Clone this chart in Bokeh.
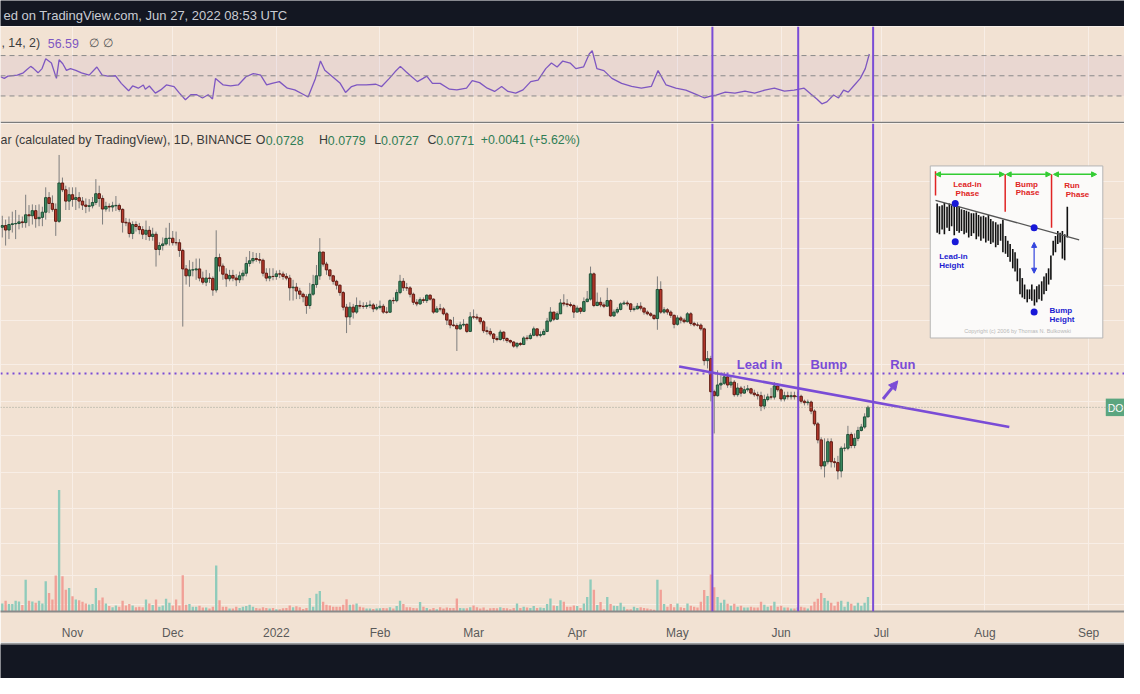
import pandas as pd
from bokeh.plotting import figure
from bokeh.layouts import column
from bokeh.models import (Range1d, LinearScale, FixedTicker, Grid, Span, BoxAnnotation, Label,
                          ColumnDataSource, Arrow, NormalHead, CustomJSTickFormatter)
from bokeh.core.properties import value
from bokeh.embed import file_html
from bokeh.resources import INLINE

# ---------------- data (daily candles from 2021-10-11) ----------------
first_date = "2021-10-11"
first_open = 0.2277
closes = [
    0.2300, 0.2239, 0.2314, 0.2324, 0.2328, 0.2351, 0.2341, 0.2453, 0.2439, 0.2515,
    0.2397, 0.2416, 0.2492, 0.2720, 0.2627, 0.2535, 0.2359, 0.2970, 0.2852, 0.2664,
    0.2768, 0.2691, 0.2720, 0.2664, 0.2601, 0.2581, 0.2590, 0.2642, 0.2785, 0.2707,
    0.2540, 0.2581, 0.2571, 0.2590, 0.2596, 0.2535, 0.2345, 0.2337, 0.2192, 0.2314,
    0.2287, 0.2244, 0.2183, 0.2235, 0.2154, 0.2183, 0.1992, 0.2039, 0.2059, 0.2129,
    0.2131, 0.2075, 0.2074, 0.1980, 0.1772, 0.1700, 0.1761, 0.1762, 0.1772, 0.1677,
    0.1636, 0.1677, 0.1674, 0.1561, 0.1897, 0.1803, 0.1717, 0.1670, 0.1704, 0.1677,
    0.1660, 0.1700, 0.1727, 0.1831, 0.1861, 0.1886, 0.1875, 0.1867, 0.1727, 0.1677,
    0.1694, 0.1693, 0.1720, 0.1718, 0.1694, 0.1677, 0.1582, 0.1588, 0.1552, 0.1522,
    0.1499, 0.1422, 0.1522, 0.1613, 0.1700, 0.1961, 0.1824, 0.1762, 0.1700, 0.1645,
    0.1607, 0.1537, 0.1408, 0.1328, 0.1408, 0.1367, 0.1422, 0.1416, 0.1414, 0.1422,
    0.1427, 0.1394, 0.1406, 0.1416, 0.1367, 0.1366, 0.1465, 0.1464, 0.1537, 0.1645,
    0.1582, 0.1581, 0.1522, 0.1450, 0.1436, 0.1473, 0.1465, 0.1513, 0.1478, 0.1367,
    0.1394, 0.1393, 0.1353, 0.1303, 0.1265, 0.1260, 0.1236, 0.1265, 0.1270, 0.1217,
    0.1328, 0.1327, 0.1320, 0.1290, 0.1222, 0.1217, 0.1198, 0.1166, 0.1159, 0.1212,
    0.1166, 0.1152, 0.1142, 0.1114, 0.1132, 0.1125, 0.1170, 0.1166, 0.1189, 0.1236,
    0.1189, 0.1194, 0.1217, 0.1295, 0.1367, 0.1310, 0.1353, 0.1444, 0.1436, 0.1430,
    0.1422, 0.1367, 0.1400, 0.1373, 0.1456, 0.1478, 0.1720, 0.1422, 0.1450, 0.1427,
    0.1416, 0.1465, 0.1336, 0.1367, 0.1389, 0.1436, 0.1444, 0.1436, 0.1389, 0.1394,
    0.1416, 0.1400, 0.1367, 0.1353, 0.1341, 0.1315, 0.1566, 0.1367, 0.1386, 0.1367,
    0.1341, 0.1270, 0.1320, 0.1303, 0.1290, 0.1353, 0.1277, 0.1265, 0.1264, 0.1236,
    0.1021, 0.1033, 0.0847, 0.0827, 0.0882, 0.0891, 0.0926, 0.0882, 0.0897, 0.0832,
    0.0866, 0.0840, 0.0857, 0.0862, 0.0840, 0.0832, 0.0827, 0.0777, 0.0808, 0.0821,
    0.0820, 0.0877, 0.0857, 0.0811, 0.0827, 0.0822, 0.0827, 0.0822, 0.0824, 0.0800,
    0.0793, 0.0796, 0.0754, 0.0698, 0.0634, 0.0542, 0.0556, 0.0627, 0.0556, 0.0553,
    0.0526, 0.0603, 0.0603, 0.0655, 0.0613, 0.0640, 0.0671, 0.0685, 0.0728, 0.0771,
]
highs = [
    0.2439, 0.2383, 0.2429, 0.2500, 0.2525, 0.2453, 0.2429, 0.2768, 0.2601, 0.2612,
    0.2601, 0.2612, 0.2575, 0.2894, 0.2812, 0.2757, 0.2627, 0.3515, 0.3069, 0.2923,
    0.2894, 0.2894, 0.2894, 0.2812, 0.2730, 0.2707, 0.2696, 0.2730, 0.3040, 0.2923,
    0.2757, 0.2653, 0.2627, 0.2653, 0.2746, 0.2627, 0.2550, 0.2407, 0.2397, 0.2359,
    0.2359, 0.2337, 0.2291, 0.2369, 0.2291, 0.2270, 0.2218, 0.2080, 0.2141, 0.2270,
    0.2337, 0.2226, 0.2218, 0.2120, 0.2000, 0.1814, 0.1867, 0.1849, 0.1886, 0.1886,
    0.1744, 0.1762, 0.1727, 0.1694, 0.2235, 0.1942, 0.1831, 0.1779, 0.1762, 0.1762,
    0.1717, 0.1744, 0.1762, 0.1905, 0.1973, 0.1961, 0.1950, 0.1950, 0.1886, 0.1779,
    0.1779, 0.1779, 0.1755, 0.1762, 0.1744, 0.1727, 0.1710, 0.1660, 0.1629, 0.1582,
    0.1537, 0.1522, 0.1629, 0.1710, 0.1814, 0.2132, 0.1923, 0.1849, 0.1762, 0.1710,
    0.1660, 0.1613, 0.1552, 0.1436, 0.1450, 0.1436, 0.1493, 0.1465, 0.1450, 0.1450,
    0.1465, 0.1444, 0.1436, 0.1465, 0.1436, 0.1408, 0.1478, 0.1493, 0.1566, 0.1710,
    0.1677, 0.1629, 0.1598, 0.1537, 0.1478, 0.1493, 0.1493, 0.1522, 0.1522, 0.1484,
    0.1416, 0.1436, 0.1408, 0.1367, 0.1310, 0.1328, 0.1277, 0.1290, 0.1310, 0.1277,
    0.1367, 0.1389, 0.1353, 0.1328, 0.1303, 0.1253, 0.1240, 0.1205, 0.1182, 0.1229,
    0.1217, 0.1175, 0.1159, 0.1147, 0.1142, 0.1142, 0.1182, 0.1189, 0.1205, 0.1253,
    0.1236, 0.1217, 0.1236, 0.1320, 0.1408, 0.1367, 0.1373, 0.1478, 0.1522, 0.1478,
    0.1450, 0.1436, 0.1422, 0.1408, 0.1493, 0.1552, 0.1797, 0.1734, 0.1537, 0.1493,
    0.1450, 0.1582, 0.1478, 0.1389, 0.1408, 0.1450, 0.1465, 0.1465, 0.1444, 0.1416,
    0.1444, 0.1450, 0.1408, 0.1381, 0.1367, 0.1346, 0.1694, 0.1645, 0.1408, 0.1400,
    0.1381, 0.1346, 0.1341, 0.1336, 0.1320, 0.1367, 0.1367, 0.1290, 0.1285, 0.1277,
    0.1245, 0.1082, 0.1051, 0.0857, 0.0963, 0.0935, 0.0953, 0.0946, 0.0935, 0.0908,
    0.0892, 0.0877, 0.0877, 0.0882, 0.0867, 0.0857, 0.0847, 0.0847, 0.0832, 0.0837,
    0.0867, 0.0897, 0.0892, 0.0867, 0.0847, 0.0847, 0.0847, 0.0847, 0.0847, 0.0832,
    0.0808, 0.0808, 0.0803, 0.0762, 0.0706, 0.0644, 0.0640, 0.0640, 0.0640, 0.0569,
    0.0576, 0.0610, 0.0621, 0.0690, 0.0663, 0.0659, 0.0686, 0.0698, 0.0744, 0.0779,
]
lows = [
    0.2141, 0.2039, 0.2120, 0.2205, 0.2120, 0.2248, 0.2270, 0.2270, 0.2291, 0.2314,
    0.2270, 0.2291, 0.2291, 0.2383, 0.2478, 0.2500, 0.2161, 0.2337, 0.2812, 0.2525,
    0.2525, 0.2575, 0.2525, 0.2550, 0.2525, 0.2478, 0.2500, 0.2550, 0.2601, 0.2575,
    0.2314, 0.2500, 0.2500, 0.2500, 0.2510, 0.2500, 0.2205, 0.2291, 0.2141, 0.2120,
    0.2218, 0.2183, 0.2120, 0.2108, 0.2099, 0.2099, 0.1797, 0.1923, 0.1980, 0.2039,
    0.2039, 0.2039, 0.2039, 0.1905, 0.1253, 0.1613, 0.1591, 0.1694, 0.1660, 0.1645,
    0.1613, 0.1598, 0.1629, 0.1508, 0.1537, 0.1744, 0.1660, 0.1591, 0.1645, 0.1645,
    0.1598, 0.1629, 0.1655, 0.1694, 0.1797, 0.1831, 0.1849, 0.1831, 0.1694, 0.1645,
    0.1645, 0.1655, 0.1660, 0.1677, 0.1660, 0.1655, 0.1465, 0.1465, 0.1478, 0.1478,
    0.1450, 0.1353, 0.1394, 0.1508, 0.1582, 0.1660, 0.1797, 0.1710, 0.1660, 0.1613,
    0.1566, 0.1508, 0.1381, 0.1205, 0.1265, 0.1315, 0.1353, 0.1394, 0.1394, 0.1394,
    0.1400, 0.1367, 0.1381, 0.1389, 0.1353, 0.1353, 0.1361, 0.1436, 0.1450, 0.1522,
    0.1552, 0.1552, 0.1493, 0.1427, 0.1416, 0.1427, 0.1444, 0.1444, 0.1465, 0.1353,
    0.1367, 0.1373, 0.1341, 0.1265, 0.1240, 0.1253, 0.1082, 0.1229, 0.1253, 0.1205,
    0.1212, 0.1310, 0.1303, 0.1270, 0.1205, 0.1194, 0.1182, 0.1136, 0.1147, 0.1152,
    0.1147, 0.1136, 0.1132, 0.1103, 0.1099, 0.1114, 0.1121, 0.1152, 0.1159, 0.1182,
    0.1175, 0.1175, 0.1189, 0.1212, 0.1285, 0.1295, 0.1303, 0.1353, 0.1416, 0.1408,
    0.1408, 0.1320, 0.1367, 0.1353, 0.1367, 0.1450, 0.1465, 0.1408, 0.1416, 0.1408,
    0.1400, 0.1427, 0.1328, 0.1328, 0.1353, 0.1381, 0.1427, 0.1416, 0.1367, 0.1373,
    0.1389, 0.1381, 0.1346, 0.1341, 0.1328, 0.1303, 0.1229, 0.1353, 0.1353, 0.1346,
    0.1320, 0.1240, 0.1260, 0.1277, 0.1277, 0.1285, 0.1260, 0.1253, 0.1253, 0.1222,
    0.0992, 0.0974, 0.0799, 0.0659, 0.0822, 0.0857, 0.0882, 0.0867, 0.0867, 0.0822,
    0.0822, 0.0822, 0.0837, 0.0847, 0.0832, 0.0822, 0.0808, 0.0754, 0.0762, 0.0799,
    0.0808, 0.0808, 0.0847, 0.0799, 0.0799, 0.0808, 0.0808, 0.0808, 0.0808, 0.0789,
    0.0780, 0.0780, 0.0740, 0.0690, 0.0621, 0.0531, 0.0506, 0.0547, 0.0537, 0.0537,
    0.0500, 0.0506, 0.0592, 0.0596, 0.0603, 0.0603, 0.0629, 0.0667, 0.0678, 0.0727,
]
volumes = [
    0.83, 1.10, 0.77, 0.77, 1.10, 1.03, 0.67, 3.27, 1.10, 1.03,
    0.90, 1.10, 0.83, 3.10, 1.90, 1.23, 3.70, 12.5, 3.63, 2.23,
    2.43, 1.57, 1.23, 1.17, 1.00, 0.83, 0.73, 0.77, 2.43, 1.17,
    1.43, 0.83, 0.57, 0.43, 0.63, 0.50, 1.10, 0.63, 0.77, 0.63,
    0.43, 0.50, 0.43, 1.23, 0.83, 0.67, 1.23, 0.50, 0.63, 1.30,
    0.90, 0.63, 1.23, 0.63, 3.73, 0.70, 0.77, 0.50, 0.50, 0.60,
    0.40, 0.40, 0.30, 0.50, 4.73, 1.17, 0.50, 0.50, 0.30, 0.30,
    0.50, 0.37, 0.50, 0.57, 0.70, 0.50, 0.37, 0.30, 0.43, 0.37,
    0.30, 0.37, 0.23, 0.23, 0.33, 0.37, 0.63, 0.43, 0.53, 0.43,
    0.27, 0.37, 1.40, 0.50, 1.83, 2.10, 1.00, 0.70, 0.63, 0.50,
    0.50, 0.50, 0.70, 1.27, 0.70, 0.73, 0.83, 0.50, 0.40, 0.30,
    0.30, 0.27, 0.30, 0.33, 0.37, 0.33, 0.43, 0.30, 0.57, 1.10,
    0.77, 0.43, 0.43, 0.37, 0.33, 0.97, 0.50, 0.37, 0.23, 0.37,
    0.23, 0.43, 0.30, 0.40, 0.37, 0.37, 1.33, 0.37, 0.33, 0.33,
    0.43, 0.63, 0.43, 0.30, 0.40, 0.17, 0.33, 0.37, 0.33, 0.43,
    0.37, 0.33, 0.23, 0.37, 0.83, 0.37, 0.50, 0.40, 0.37, 0.57,
    0.37, 0.40, 0.37, 0.77, 1.33, 0.63, 0.57, 1.17, 1.00, 0.50,
    0.50, 0.63, 0.57, 0.37, 0.83, 1.50, 3.30, 2.23, 0.67, 0.97,
    0.23, 1.50, 0.77, 0.60, 0.57, 0.90, 0.50, 0.23, 0.23, 0.50,
    0.37, 0.43, 0.37, 0.30, 0.23, 0.17, 3.27, 2.23, 0.77, 0.50,
    0.77, 0.43, 0.83, 0.43, 0.37, 0.83, 0.60, 0.50, 0.40, 1.00,
    2.20, 1.60, 3.80, 2.50, 1.50, 0.90, 1.20, 0.80, 0.60, 0.80,
    0.50, 0.60, 0.40, 0.40, 0.50, 0.40, 0.40, 1.00, 0.70, 0.50,
    0.60, 1.00, 0.50, 0.60, 0.40, 0.40, 0.30, 0.30, 0.40, 0.50,
    0.40, 0.30, 0.60, 1.00, 1.30, 1.90, 1.40, 1.10, 0.90, 0.60,
    1.00, 1.10, 0.50, 1.00, 0.80, 0.60, 0.90, 0.60, 0.90, 1.50,
]
# RSI line: day offset from first_date and value
rsi_day = [
    -0.5, 0.6, 1.7, 4.5, 6.3, 7.4, 8.5, 9.4, 10.7, 11.9,
    13.0, 14.7, 16.2, 17.0, 18.1, 19.2, 20.4, 22.0, 23.7, 26.0,
    28.3, 29.9, 31.6, 33.9, 35.6, 37.8, 39.0, 40.7, 42.2, 42.8,
    44.0, 45.8, 47.4, 49.1, 51.4, 53.0, 54.8, 56.4, 58.2, 59.9,
    61.6, 62.9, 63.8, 66.1, 68.3, 70.6, 72.9, 75.1, 77.3, 79.1,
    80.7, 82.9, 85.3, 87.5, 89.7, 91.5, 93.7, 95.2, 96.5, 98.8,
    101.1, 102.7, 104.5, 106.1, 108.9, 111.8, 113.5, 115.8, 117.5, 119.1,
    120.8, 122.5, 124.2, 125.9, 127.0, 128.7, 131.0, 133.8, 136.0, 138.9,
    140.6, 142.8, 145.1, 147.3, 149.4, 151.3, 153.6, 155.8, 158.1, 160.3,
    162.6, 164.3, 166.0, 167.7, 169.9, 171.6, 173.9, 175.6, 176.5, 177.9,
    180.0, 182.4, 185.3, 188.3, 191.2, 194.2, 196.2, 198.6, 201.5, 204.5,
    207.4, 210.1, 211.9, 213.6, 216.3, 219.2, 222.2, 225.1, 228.1, 231.0,
    234.0, 236.9, 239.9, 241.9, 243.7, 245.2, 246.7, 248.7, 250.2, 251.7,
    253.1, 254.9, 256.7, 258.2, 259.4,
]
rsi_val = [
    49.0, 47.4, 49.6, 50.6, 52.9, 56.1, 59.3, 57.1, 52.9, 57.1,
    66.8, 62.6, 47.4, 65.8, 61.9, 55.4, 57.1, 55.4, 52.9, 50.6,
    58.7, 50.6, 49.6, 50.0, 42.5, 35.1, 39.9, 37.7, 40.9, 36.7,
    39.9, 32.8, 36.0, 40.9, 39.3, 32.8, 26.3, 31.2, 31.2, 28.0,
    31.2, 27.0, 47.4, 40.9, 39.9, 40.9, 49.0, 52.2, 50.6, 40.9,
    42.5, 44.2, 37.7, 36.0, 32.2, 29.0, 47.4, 64.6, 55.4, 49.0,
    42.5, 33.5, 39.3, 40.9, 40.9, 41.6, 39.3, 47.4, 53.9, 59.3,
    53.9, 49.0, 44.2, 47.4, 49.6, 42.5, 42.5, 36.7, 36.0, 37.7,
    45.1, 43.2, 37.7, 34.5, 39.3, 34.5, 32.8, 36.0, 44.2, 45.7,
    57.1, 62.6, 58.7, 64.6, 62.6, 57.1, 58.7, 71.6, 74.8, 57.1,
    55.1, 47.4, 42.5, 39.6, 37.7, 39.6, 55.1, 40.9, 37.7, 35.7,
    31.9, 28.0, 29.9, 30.9, 33.8, 32.8, 34.8, 32.8, 35.7, 37.7,
    34.8, 35.7, 37.7, 31.9, 27.0, 22.2, 24.1, 30.9, 28.0, 35.7,
    33.8, 40.6, 47.4, 57.1, 71.6,
]
rsi_levels = [70, 50, 30]
month_ticks = ["2021-11-01", "2021-12-01", "2022-01-01", "2022-02-01", "2022-03-01", "2022-04-01",
               "2022-05-01", "2022-06-01", "2022-07-01", "2022-08-01", "2022-09-01"]
grid_prices = [0.30, 0.24, 0.20, 0.16, 0.13, 0.10, 0.08, 0.065, 0.052, 0.042, 0.034, 0.028, 0.0235]
phase_lines = ["2022-05-11 11:00", "2022-06-06 03:00", "2022-06-28 13:00"]
trend_dates = ["2022-05-01 12:00", "2022-08-08 07:00"]
trend_prices = [0.0986, 0.0685]
breakout_level = 0.0945
last_price = 0.0771
phase_names = ["Lead in", "Bump", "Run"]
phase_name_dates = ["2022-05-25 14:00", "2022-06-15 07:00", "2022-07-07 10:00"]
phase_name_price = 0.0999
run_arrow_dates = ["2022-07-01 12:00", "2022-07-05 22:00"]
run_arrow_prices = [0.0811, 0.0904]

# inset diagram (Bulkowski bump-and-run sketch), in its own units
inset_bar_u = [30, 37, 45, 52, 60, 67, 74, 82, 90, 97, 104, 112, 119, 126, 134, 141, 149, 156, 163, 171,
               178, 186, 193, 200, 208, 215, 223, 230,
               238, 245, 252, 260, 267, 274, 282, 289, 296, 304, 311, 318, 326, 333, 340, 348, 355, 362, 369, 376,
               383, 390, 397, 404, 411, 418, 426]
inset_bar_top = [130, 138, 135, 128, 140, 130, 135, 130, 140, 140, 148, 150, 152, 155, 160, 160, 158, 165, 170, 168,
                 172, 165, 178, 185, 188, 195, 192, 180,
                 230, 245, 255, 270, 280, 300, 330, 360, 380, 395, 395, 380, 395, 385, 380, 370, 355, 345, 330, 290,
                 245, 230, 215, 220, 215, 225, 140]
inset_bar_bot = [220, 225, 210, 225, 205, 215, 200, 228, 215, 220, 215, 225, 220, 235, 230, 222, 240, 232, 245, 238,
                 250, 245, 255, 250, 265, 258, 245, 280,
                 285, 295, 310, 330, 340, 370, 410, 420, 425, 435, 425, 430, 445, 435, 425, 430, 410, 400, 380, 365,
                 290, 280, 255, 250, 300, 305, 235]
inset_phase_text = ["Lead-in", "Phase", "Bump", "Phase", "Run", "Phase"]
inset_phase_u = [122, 122, 302, 305, 440, 457]
inset_phase_v = [72, 98, 70, 97, 73, 101]
inset_height_text = ["Lead-in", "Height", "Bump", "Height"]
inset_height_u = [36, 36, 372, 372]
inset_height_v = [293, 322, 460, 488]
inset_dot_u = [85, 85, 325, 325]
inset_dot_v = [130, 248, 205, 465]
inset_red_u = [25, 237, 378]
inset_red_top = [30, 40, 40]
inset_red_bot = [105, 155, 205]
inset_green_spans = [(25, 235), (240, 376), (384, 515)]

# ---------------- styling ----------------
W = 1124
BG = "#f2e2d3"
GRID = "#f8eee6"
DARK = "#131722"
PURPLE = "#7a4cd6"
UP_BODY, UP_EDGE = "#3c8b61", "#1f4f37"
DN_BODY, DN_EDGE = "#b8392c", "#5f1a12"
UP_VOL, DN_VOL = "#8fcbbb", "#f1a097"
FONT = "Liberation Sans"
HFS = "12.4px"
DAY = 86400000.0


def ms(s):
    return pd.Timestamp(s).value / 1e6


def bare(fig, bg, border):
    fig.background_fill_color = bg
    fig.border_fill_color = border
    fig.outline_line_color = None
    for g in fig.grid:
        g.visible = False


start = pd.Timestamp(first_date)
xs = [ms(start + pd.Timedelta(days=i)) for i in range(len(closes))]
opens = [first_open] + closes[:-1]
up = [c >= o for o, c in zip(opens, closes)]
src = ColumnDataSource(dict(
    x=xs, h=highs, l=lows,
    btop=[max(o, c) for o, c in zip(opens, closes)],
    bbot=[min(o, c) for o, c in zip(opens, closes)],
    body=[UP_BODY if u else DN_BODY for u in up],
    edge=[UP_EDGE if u else DN_EDGE for u in up],
    vol=volumes,
    vcol=[UP_VOL if u else DN_VOL for u in up],
))

x_range = Range1d(ms("2021-10-10 11:15"), ms("2022-09-11 18:00"))
month_ms = [ms(m) for m in month_ticks]

# ---------------- header bar ----------------
hdr = figure(width=W, height=26, x_range=Range1d(0, 1140), y_range=Range1d(27, 0),
             x_axis_location=None, y_axis_location=None, output_backend="svg",
             toolbar_location=None, min_border=0)
bare(hdr, DARK, DARK)
hdr.add_layout(Label(x=3, y=15.5, text="ed on TradingView.com, Jun 27, 2022 08:53 UTC",
                     text_font=FONT, text_font_size="13px", text_color="#c9ccd3",
                     text_baseline="middle"))

# ---------------- RSI pane ----------------
rsi = figure(width=W, height=97, x_range=x_range, y_range=Range1d(4.7, 98.8),
             x_axis_location=None, y_axis_location=None, output_backend="svg",
             toolbar_location=None, min_border=0)
rsi.min_border_bottom = 2
bare(rsi, BG, "#7c7c7c")
rsi.extra_x_ranges = {"px": Range1d(0, 1140)}
rsi.extra_y_ranges = {"py": Range1d(124, 27)}
rsi.add_layout(Grid(dimension=0, ticker=FixedTicker(ticks=month_ms), grid_line_color=GRID))
rsi.add_layout(BoxAnnotation(bottom=rsi_levels[2], top=rsi_levels[0], fill_color="#7e57c2",
                             fill_alpha=0.08, line_color=None))
for lv in rsi_levels:
    rsi.add_layout(Span(location=lv, dimension="width", line_color="#8a8a8a",
                        line_dash="5 4", line_width=1))
rsi_x = [ms(start + pd.Timedelta(days=d)) for d in rsi_day]
rsi.line(rsi_x, rsi_val, line_color="#7e57c2", line_width=1.3)
for d in phase_lines:
    rsi.add_layout(Span(location=ms(d), dimension="height", line_color=PURPLE, line_width=2))
rsi.add_layout(Label(x=1, y=44, x_range_name="px", y_range_name="py", text=", 14, 2)",
                     text_font=FONT, text_font_size=HFS, text_color="#3d3d3d", text_baseline="middle"))
rsi.add_layout(Label(x=48, y=44, x_range_name="px", y_range_name="py", text="56.59",
                     text_font=FONT, text_font_size=HFS, text_color="#7e57c2", text_baseline="middle"))
rsi.add_layout(Label(x=90, y=44, x_range_name="px", y_range_name="py", text="\u2205  \u2205",
                     text_font=FONT, text_font_size="12px", text_color="#555555", text_baseline="middle"))

# ---------------- main price pane ----------------
p = figure(width=W, height=519, x_range=x_range, y_range=Range1d(0.022599, 0.42473),
           y_axis_type="log", y_axis_location=None, output_backend="svg",
           toolbar_location=None, min_border=0)
p.min_border_bottom = 28
bare(p, BG, BG)
p.extra_x_ranges = {"px": Range1d(0, 1140), "iu": Range1d(-2820, 600)}
p.extra_y_ranges = {"vol": Range1d(0, 50.2), "py": Range1d(628, 126), "iv": Range1d(1389, -117)}
p.extra_y_scales = {"vol": LinearScale(), "py": LinearScale(), "iv": LinearScale()}

p.xaxis.ticker = FixedTicker(ticks=month_ms)
p.xaxis.formatter = CustomJSTickFormatter(code="""
const d = new Date(tick);
const m = d.getUTCMonth();
const names = ["Jan","Feb","Mar","Apr","May","Jun","Jul","Aug","Sep","Oct","Nov","Dec"];
return m == 0 ? String(d.getUTCFullYear()) : names[m];
""")
p.xaxis.axis_line_color = "#8a8a8a"
p.xaxis.axis_line_width = 2
p.xaxis.major_tick_line_color = None
p.xaxis.minor_tick_line_color = None
p.xaxis.major_label_standoff = 8
p.xaxis.major_label_text_font = FONT
p.xaxis.major_label_text_font_size = "12px"
p.xaxis.major_label_text_color = "#5a5a5a"
p.add_layout(Grid(dimension=0, ticker=FixedTicker(ticks=month_ms), grid_line_color=GRID))
p.add_layout(Grid(dimension=1, ticker=FixedTicker(ticks=grid_prices), grid_line_color=GRID))

# volume
p.vbar(x="x", top="vol", bottom=0, width=0.7 * DAY, source=src, y_range_name="vol",
       fill_color="vcol", line_color=None)
# candles
p.segment(x0="x", y0="h", x1="x", y1="l", source=src, line_color="#7d7d7d", line_width=1)
p.vbar(x="x", top="btop", bottom="bbot", width=0.72 * DAY, source=src,
       fill_color="body", line_color="edge", line_width=1)

# price lines
p.add_layout(Span(location=last_price, dimension="width", line_color="#9aa096",
                  line_dash="1 2", line_width=1))
p.add_layout(Span(location=breakout_level, dimension="width", line_color=PURPLE,
                  line_dash="2 4", line_width=2))
for d in phase_lines:
    p.add_layout(Span(location=ms(d), dimension="height", line_color=PURPLE, line_width=2))
p.line([ms(d) for d in trend_dates], trend_prices, line_color=PURPLE, line_width=2.5)
p.text(x=[ms(d) for d in phase_name_dates], y=[phase_name_price] * 3, text=phase_names,
       text_font=value(FONT), text_font_size="13px", text_font_style="bold",
       text_color=PURPLE, text_align="center", text_baseline="middle")
p.add_layout(Arrow(end=NormalHead(size=9, fill_color=PURPLE, line_color=PURPLE),
                   x_start=ms(run_arrow_dates[0]), y_start=run_arrow_prices[0],
                   x_end=ms(run_arrow_dates[1]), y_end=run_arrow_prices[1],
                   line_color=PURPLE, line_width=3))

# current price tag at right edge
p.quad(left=[1121], right=[1150], top=[409], bottom=[427], x_range_name="px", y_range_name="py",
       fill_color="#5aa57f", line_color=None)
p.text(x=[1123], y=[418.5], text=["DO"], x_range_name="px", y_range_name="py",
       text_font=value(FONT), text_font_size="10.5px", text_color="white", text_baseline="middle")

# header of main pane
p.add_layout(Label(x=0, y=143, x_range_name="px", y_range_name="py",
                   text="ar (calculated by TradingView), 1D, BINANCE", text_font=FONT,
                   text_font_size=HFS, text_color="#3a3a3a", text_baseline="middle"))
ohlc_parts = [(259, "O", "#3a3a3a"), (269, "0.0728", "#2f7d55"), (323, "H", "#3a3a3a"),
              (332, "0.0779", "#2f7d55"), (379, "L", "#3a3a3a"), (386, "0.0727", "#2f7d55"),
              (433, "C", "#3a3a3a"), (442, "0.0771", "#2f7d55"), (487, "+0.0041 (+5.62%)", "#2f7d55")]
for xx, t, col in ohlc_parts:
    p.add_layout(Label(x=xx, y=143, x_range_name="px", y_range_name="py", text=t, text_font=FONT,
                       text_font_size=HFS, text_color=col, text_baseline="middle"))

# inset diagram
p.quad(left=[9], right=[534], top=[14], bottom=[545], x_range_name="iu", y_range_name="iv",
       fill_color="#fbfaf9", line_color="#b5b5b5", line_width=1)
for a, b in inset_green_spans:
    p.add_layout(Arrow(start=NormalHead(size=5, fill_color="#33cc33", line_color="#33cc33"),
                       end=NormalHead(size=5, fill_color="#33cc33", line_color="#33cc33"),
                       x_start=a, y_start=40, x_end=b, y_end=40, x_range_name="iu",
                       y_range_name="iv", line_color="#33cc33", line_width=1.5))
p.segment(x0=inset_red_u, y0=inset_red_top, x1=inset_red_u, y1=inset_red_bot,
          x_range_name="iu", y_range_name="iv", line_color="#e02424", line_width=1.5)
p.segment(x0=inset_bar_u, y0=inset_bar_top, x1=inset_bar_u, y1=inset_bar_bot,
          x_range_name="iu", y_range_name="iv", line_color="#111111", line_width=1.6)
p.line([25, 462], [120, 242], x_range_name="iu", y_range_name="iv", line_color="#555555", line_width=1.3)
p.add_layout(Arrow(start=NormalHead(size=5, fill_color="#3344dd", line_color="#3344dd"),
                   end=NormalHead(size=5, fill_color="#3344dd", line_color="#3344dd"),
                   x_start=325, y_start=250, x_end=325, y_end=345, x_range_name="iu",
                   y_range_name="iv", line_color="#3344dd", line_width=1.2))
p.scatter(inset_dot_u, inset_dot_v, x_range_name="iu", y_range_name="iv", size=7,
          fill_color="#1818d8", line_color=None)
p.text(x=inset_phase_u, y=inset_phase_v, text=inset_phase_text, x_range_name="iu", y_range_name="iv",
       text_font=value(FONT), text_font_size="8px", text_font_style="bold", text_color="#e02424",
       text_align="center", text_baseline="middle")
p.text(x=inset_height_u, y=inset_height_v, text=inset_height_text, x_range_name="iu", y_range_name="iv",
       text_font=value(FONT), text_font_size="8px", text_font_style="bold", text_color="#1a1ad0",
       text_align="left", text_baseline="middle")
p.text(x=[275], y=[522], text=["Copyright (c) 2006 by Thomas N. Bulkowski"], x_range_name="iu",
       y_range_name="iv", text_font=value(FONT), text_font_size="5.5px", text_color="#b8b8b8",
       text_align="center", text_baseline="middle")

# ---------------- footer ----------------
foot = figure(width=W, height=36, x_range=Range1d(0, 1), y_range=Range1d(0, 1),
              x_axis_location=None, y_axis_location=None, output_backend="svg",
              toolbar_location=None, min_border=0)
foot.min_border_top = 2
bare(foot, DARK, "#9a9a9a")

layout = column(hdr, rsi, p, foot, spacing=0)
open("out.html", "w").write(file_html(layout, INLINE))
